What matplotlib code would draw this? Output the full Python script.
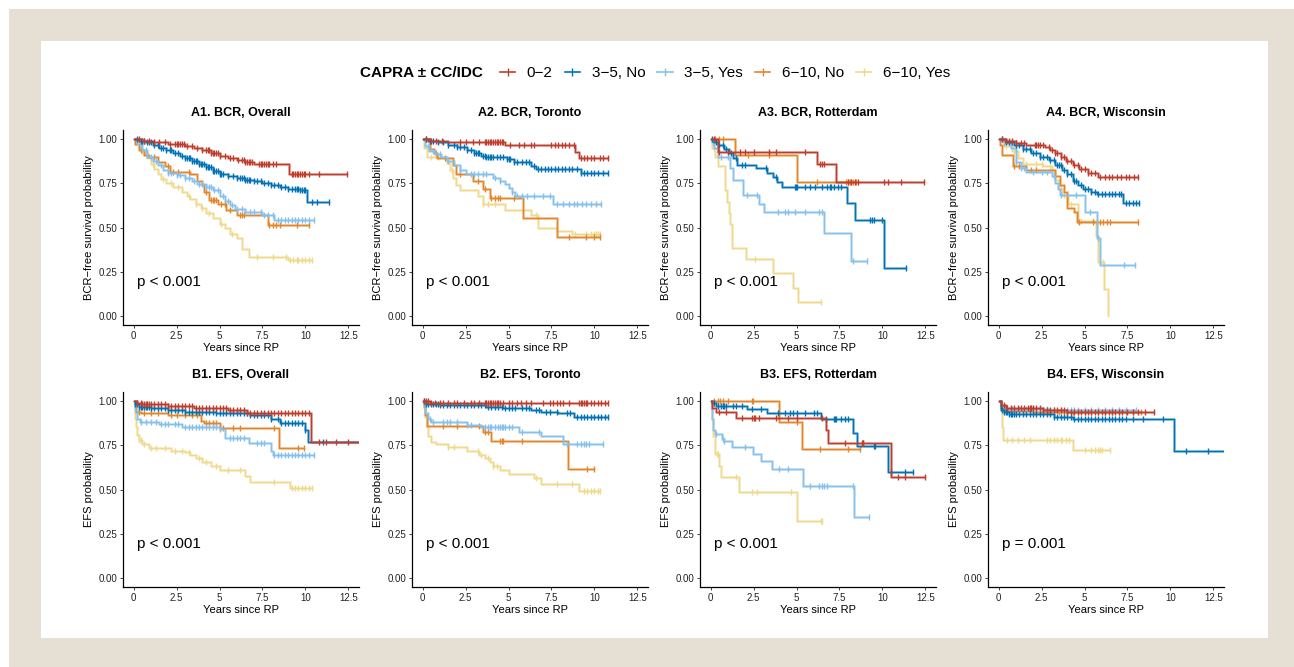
# Kaplan-Meier curves by CAPRA +/- CC/IDC group, BCR and EFS, by cohort
import matplotlib.pyplot as plt
import numpy as np
from matplotlib.lines import Line2D
from matplotlib.patches import Rectangle

plt.rcParams['font.family'] = ['Liberation Sans', 'DejaVu Sans']

groups = ["0\u22122", "3\u22125, No", "3\u22125, Yes", "6\u221210, No", "6\u221210, Yes"]
colors = ["#BE3D2C", "#0072B5", "#85C1EC", "#E3862B", "#EFD98A"]

titles = ["A1. BCR, Overall", "A2. BCR, Toronto", "A3. BCR, Rotterdam", "A4. BCR, Wisconsin",
          "B1. EFS, Overall", "B2. EFS, Toronto", "B3. EFS, Rotterdam", "B4. EFS, Wisconsin"]
pvalues = ["p < 0.001"] * 7 + ["p = 0.001"]
ylabels = ["BCR\u2212free survival probability"] * 4 + ["EFS probability"] * 4
x_ticks = [0, 2.5, 5, 7.5, 10, 12.5]
x_ticklabels = ["0", "2.5", "5", "7.5", "10", "12.5"]
y_ticks = [0, 0.25, 0.5, 0.75, 1.0]
y_ticklabels = ["0.00", "0.25", "0.50", "0.75", "1.00"]

# per panel: step times, survival after each step, last follow-up, censor times
# (one list per group, in the order of `groups`)
a1_times = [[0, 0.5, 1.2, 2.0, 3.0, 3.5, 4.0, 4.5, 5.0, 5.5, 6.0, 6.5, 7.0, 9.05],
            [0, 0.3, 0.7, 1.1, 1.5, 1.9, 2.3, 2.7, 3.0, 3.4, 3.8, 4.2, 4.6, 5.0, 5.5, 6.0, 6.5, 7.0, 7.5, 8.0, 8.5, 9.0, 9.7, 10.1],
            [0, 0.2, 0.5, 0.8, 1.1, 1.4, 1.7, 2.0, 2.5, 3.0, 3.4, 3.7, 4.2, 4.6, 5.0, 5.3, 5.6, 5.9, 6.5, 7.5, 8.2],
            [0, 0.1, 0.3, 0.6, 0.9, 1.4, 1.8, 2.1, 3.3, 3.7, 4.0, 4.1, 4.4, 4.9, 5.4, 6.0, 7.8],
            [0, 0.1, 0.3, 0.5, 0.8, 1.0, 1.2, 1.4, 1.6, 1.9, 2.3, 2.8, 3.1, 3.3, 3.6, 3.9, 4.2, 4.6, 5.0, 5.3, 5.6, 6.0, 6.3, 6.7, 9.0]]
a1_surv = [[1.0, 0.99, 0.98, 0.97, 0.96, 0.95, 0.935, 0.92, 0.905, 0.89, 0.88, 0.87, 0.86, 0.80],
           [1.0, 0.99, 0.98, 0.965, 0.95, 0.935, 0.92, 0.905, 0.89, 0.875, 0.86, 0.84, 0.82, 0.80, 0.79, 0.78, 0.77, 0.76, 0.75, 0.74, 0.73, 0.72, 0.71, 0.645],
           [1.0, 0.97, 0.935, 0.90, 0.875, 0.85, 0.825, 0.805, 0.795, 0.78, 0.76, 0.745, 0.73, 0.71, 0.68, 0.65, 0.625, 0.605, 0.59, 0.57, 0.54],
           [1.0, 0.97, 0.94, 0.91, 0.895, 0.87, 0.845, 0.815, 0.80, 0.765, 0.74, 0.70, 0.655, 0.635, 0.60, 0.57, 0.515],
           [1.0, 0.97, 0.95, 0.92, 0.89, 0.86, 0.83, 0.80, 0.775, 0.75, 0.73, 0.70, 0.68, 0.66, 0.635, 0.61, 0.58, 0.555, 0.52, 0.50, 0.465, 0.44, 0.38, 0.335, 0.315]]
a1_end = [12.4, 11.4, 10.5, 10.2, 10.4]
a1_cens = [[0.3, 0.6, 0.9, 1.2, 1.5, 1.8, 2.1, 2.4, 2.5, 2.6, 2.7, 2.8, 2.9, 3.1, 3.4, 3.7, 4.0, 4.2, 4.3, 4.4, 4.5, 4.6, 4.7, 4.8, 4.9, 5.0, 5.3, 5.6, 5.8, 6.1, 6.3, 6.4, 6.5, 6.6, 6.7, 6.8, 6.9, 7.3, 7.4, 7.5, 7.6, 7.7, 7.8, 7.9, 8.1, 8.3, 9.2, 9.3, 9.4, 9.5, 9.6, 9.7, 9.8, 9.9, 10.0, 10.2, 10.8, 12.4],
           [0.2, 0.4, 0.5, 0.6, 0.8, 0.9, 1.0, 1.2, 1.4, 1.6, 1.7, 1.9, 2.1, 2.2, 2.4, 2.6, 2.8, 3.0, 3.1, 3.2, 3.3, 3.4, 3.5, 3.6, 3.7, 3.8, 3.9, 4.0, 4.1, 4.2, 4.3, 4.4, 4.5, 4.6, 4.7, 4.8, 4.9, 5.0, 5.1, 5.2, 5.5, 5.8, 6.0, 6.2, 6.3, 6.4, 6.5, 6.6, 6.7, 6.8, 7.0, 7.2, 7.4, 7.6, 7.8, 8.0, 8.2, 8.4, 8.6, 8.8, 9.0, 9.2, 9.4, 9.5, 9.6, 9.7, 9.8, 9.9, 10.0, 10.4, 10.7, 11.4],
           [0.4, 0.7, 1.0, 1.3, 1.6, 2.0, 2.2, 2.5, 2.7, 3.0, 3.2, 3.5, 3.8, 4.0, 4.2, 4.4, 4.5, 4.7, 4.9, 5.2, 5.5, 5.7, 6.0, 6.3, 6.5, 6.8, 7.0, 7.4, 7.6, 7.8, 8.1, 8.4, 8.6, 8.8, 9.0, 9.2, 9.4, 9.6, 9.8, 10.0, 10.2, 10.5],
           [0.4, 0.8, 1.2, 2.0, 2.3, 2.6, 3.2, 4.2, 4.5, 4.6, 4.7, 4.8, 5.1, 5.3, 5.6, 6.2, 6.3, 6.4, 7.9, 8.1, 8.3, 8.5, 9.5, 10.2],
           [0.6, 1.1, 1.7, 2.2, 2.6, 3.2, 3.6, 4.0, 4.4, 5.1, 5.7, 7.2, 8.1, 8.9, 9.1, 9.3, 9.5, 9.6, 9.8, 10.0, 10.2, 10.4]]

a2_times = [[0, 0.4, 1.5, 4.8, 8.9, 9.1],
            [0, 0.3, 0.9, 1.5, 2.0, 2.6, 3.0, 3.4, 3.7, 4.9, 5.3, 6.3, 6.6, 9.2],
            [0, 0.15, 0.35, 0.7, 1.05, 1.4, 1.8, 2.2, 2.5, 4.1, 4.5, 4.8, 5.0, 5.2, 5.4, 7.6],
            [0, 0.45, 0.65, 0.85, 1.75, 1.95, 2.9, 3.5, 3.9, 5.83, 7.8],
            [0, 0.1, 0.25, 1.4, 1.6, 1.75, 1.95, 2.15, 3.2, 3.5, 4.8, 6.3, 6.7, 7.8, 8.7]]
a2_surv = [[1.0, 0.99, 0.98, 0.963, 0.925, 0.89],
           [1.0, 0.99, 0.98, 0.965, 0.955, 0.94, 0.92, 0.905, 0.895, 0.885, 0.87, 0.845, 0.83, 0.81],
           [1.0, 0.96, 0.93, 0.915, 0.90, 0.875, 0.85, 0.825, 0.80, 0.78, 0.76, 0.745, 0.725, 0.70, 0.675, 0.635],
           [1.0, 0.945, 0.92, 0.89, 0.855, 0.80, 0.765, 0.72, 0.665, 0.555, 0.445],
           [1.0, 0.95, 0.90, 0.865, 0.825, 0.78, 0.74, 0.71, 0.675, 0.635, 0.60, 0.57, 0.50, 0.48, 0.465]]
a2_end = [10.8, 10.8, 10.4, 10.3, 10.3]
a2_cens = [[0.2, 0.5, 0.8, 1.1, 2.2, 2.5, 2.9, 3.3, 3.6, 3.7, 3.8, 3.9, 4.0, 4.1, 4.2, 4.3, 4.4, 4.5, 4.6, 4.7, 5.1, 5.6, 5.9, 6.3, 6.5, 7.5, 7.7, 7.9, 8.1, 8.3, 8.5, 8.8, 9.2, 9.4, 9.6, 9.8, 10.0, 10.3, 10.5, 10.8],
           [0.2, 0.4, 0.6, 0.9, 1.2, 1.5, 1.8, 2.0, 2.2, 2.4, 2.6, 2.8, 3.0, 3.1, 3.2, 3.3, 3.5, 3.6, 3.7, 3.8, 3.9, 4.0, 4.1, 4.3, 4.5, 4.7, 4.9, 5.0, 5.1, 5.3, 5.5, 5.8, 6.0, 6.2, 6.5, 6.7, 6.9, 7.1, 7.3, 7.5, 7.7, 7.9, 8.1, 8.3, 8.5, 8.7, 9.0, 9.2, 9.4, 9.6, 9.8, 10.0, 10.2, 10.5, 10.8],
           [0.3, 0.6, 1.0, 1.5, 2.2, 2.8, 3.0, 3.2, 3.5, 3.7, 4.2, 4.5, 5.2, 5.5, 5.8, 6.1, 6.5, 7.0, 7.4, 7.8, 8.2, 8.5, 8.8, 9.0, 9.3, 9.5, 9.8, 10.1, 10.4],
           [0.8, 1.3, 2.2, 3.2, 3.6, 4.0, 4.2, 4.4, 4.5, 5.3, 8.5, 9.5, 10.0, 10.3],
           [0.5, 0.9, 1.7, 3.5, 3.8, 4.2, 6.6, 8.9, 9.5, 9.8, 10.0, 10.1, 10.2, 10.3]]

a3_times = [[0, 0.45, 6.2, 7.3],
            [0, 0.2, 0.45, 0.75, 1.05, 1.3, 1.55, 2.65, 3.3, 3.6, 3.85, 4.15, 7.95, 8.4, 10.1],
            [0, 0.1, 0.2, 0.4, 1.1, 1.3, 1.9, 2.8, 3.1, 6.6, 8.2],
            [0, 1.4, 5.05],
            [0, 0.1, 0.25, 0.45, 0.85, 0.95, 1.05, 1.15, 1.25, 2.05, 3.6, 4.8, 5.1]]
a3_surv = [[1.0, 0.928, 0.857, 0.757],
           [1.0, 0.985, 0.965, 0.945, 0.92, 0.89, 0.853, 0.834, 0.806, 0.787, 0.757, 0.73, 0.636, 0.545, 0.273],
           [1.0, 0.98, 0.95, 0.90, 0.835, 0.77, 0.685, 0.635, 0.586, 0.47, 0.31],
           [1.0, 0.91, 0.755],
           [1.0, 0.95, 0.90, 0.845, 0.71, 0.645, 0.58, 0.52, 0.386, 0.322, 0.245, 0.16, 0.08]]
a3_end = [12.4, 11.4, 9.1, 8.45, 6.4]
a3_cens = [[0.2, 0.5, 1.0, 1.7, 2.0, 2.5, 3.4, 3.8, 5.5, 6.35, 6.5, 6.6, 8.0, 8.2, 8.4, 8.6, 10.1, 10.3, 11.1, 12.4],
           [0.1, 0.3, 0.5, 0.7, 0.9, 1.2, 1.5, 1.8, 2.0, 3.2, 3.8, 4.9, 4.95, 5.0, 5.5, 5.8, 6.1, 6.5, 6.8, 6.95, 7.0, 7.2, 7.4, 7.6, 9.3, 9.4, 9.5, 10.0, 11.4],
           [0.15, 0.6, 1.0, 2.1, 2.7, 3.9, 4.3, 4.5, 4.9, 5.5, 6.3, 6.5, 8.3, 9.1],
           [0.25, 0.5, 0.7, 2.2, 3.4, 6.2, 7.9, 8.0, 8.1, 8.2, 8.3, 8.45],
           [0.2, 2.6, 6.4]]

a4_times = [[0, 0.35, 1.0, 1.6, 2.7, 3.0, 3.3, 3.6, 3.9, 4.3, 4.7, 5.2, 5.8],
            [0, 0.4, 0.9, 1.4, 1.9, 2.4, 2.9, 3.3, 3.7, 4.0, 4.3, 4.6, 4.9, 5.4, 5.7, 7.25],
            [0, 0.3, 0.7, 1.0, 1.3, 1.6, 3.1, 3.3, 3.45, 3.55, 5.0, 5.7, 5.9],
            [0, 0.1, 0.2, 0.85, 1.6, 3.3, 3.55, 3.8, 4.0, 4.4, 4.55],
            [0, 0.3, 0.8, 1.1, 1.4, 2.6, 3.1, 3.3, 3.5, 3.7, 4.05, 4.6, 5.65, 5.8, 6.15, 6.35]]
a4_surv = [[1.0, 0.99, 0.975, 0.965, 0.955, 0.94, 0.92, 0.90, 0.875, 0.85, 0.83, 0.81, 0.787],
           [1.0, 0.985, 0.965, 0.945, 0.92, 0.90, 0.88, 0.855, 0.825, 0.80, 0.765, 0.74, 0.715, 0.70, 0.687, 0.64],
           [1.0, 0.975, 0.95, 0.87, 0.835, 0.815, 0.79, 0.75, 0.72, 0.685, 0.59, 0.44, 0.29],
           [1.0, 0.965, 0.91, 0.845, 0.825, 0.79, 0.74, 0.70, 0.61, 0.59, 0.533],
           [1.0, 0.96, 0.93, 0.89, 0.86, 0.845, 0.825, 0.77, 0.72, 0.685, 0.63, 0.535, 0.45, 0.307, 0.153, 0.0]]
a4_end = [8.1, 8.2, 7.95, 8.1, 6.35]
a4_cens = [[0.2, 0.4, 0.6, 0.8, 1.0, 1.3, 1.5, 2.1, 2.2, 2.3, 2.4, 2.6, 2.9, 3.1, 3.3, 3.4, 3.6, 3.8, 4.0, 4.2, 4.4, 4.6, 4.8, 5.0, 5.2, 5.4, 5.6, 5.9, 6.2, 6.4, 6.6, 6.9, 7.1, 7.4, 7.6, 7.9, 8.1],
           [0.2, 0.4, 0.6, 0.8, 1.0, 1.2, 1.4, 1.6, 1.8, 2.0, 2.2, 2.4, 2.6, 2.8, 3.0, 3.2, 3.4, 3.5, 3.6, 3.8, 4.0, 4.2, 4.4, 4.5, 4.8, 5.0, 5.2, 5.4, 5.6, 5.8, 6.0, 6.2, 6.4, 6.6, 6.8, 7.0, 7.1, 7.4, 7.6, 7.8, 8.0, 8.2],
           [0.3, 0.6, 1.0, 1.3, 1.5, 2.0, 2.5, 2.8, 3.2, 3.6, 4.5, 5.3, 5.8, 7.3, 7.95],
           [0.9, 1.2, 1.9, 2.2, 4.7, 5.5, 5.7, 5.9, 6.1, 6.3, 6.5, 8.1],
           [0.4, 0.9, 1.6, 2.2, 2.5, 3.0, 3.6, 3.8, 4.2, 4.6, 4.8, 5.5, 6.1]]

b1_times = [[0, 0.2, 0.5, 2.0, 3.5, 5.5, 6.6, 10.3],
            [0, 0.1, 0.3, 1.0, 2.0, 3.0, 4.8, 6.8, 8.0, 8.5, 10.0, 10.15],
            [0, 0.1, 0.2, 0.35, 1.5, 2.8, 5.0, 5.3, 6.7, 8.0, 8.1],
            [0, 0.15, 0.4, 2.0, 3.9, 4.1, 5.0, 8.45],
            [0, 0.05, 0.1, 0.15, 0.2, 0.3, 0.5, 0.9, 2.2, 3.0, 3.3, 3.6, 4.0, 4.5, 5.0, 6.5, 6.8, 9.1]]
b1_surv = [[1.0, 0.99, 0.98, 0.97, 0.96, 0.95, 0.93, 0.77],
           [1.0, 0.98, 0.965, 0.958, 0.95, 0.94, 0.93, 0.92, 0.90, 0.875, 0.835, 0.77],
           [1.0, 0.95, 0.90, 0.88, 0.868, 0.855, 0.84, 0.79, 0.765, 0.72, 0.695],
           [1.0, 0.94, 0.93, 0.92, 0.885, 0.875, 0.845, 0.735],
           [1.0, 0.96, 0.90, 0.855, 0.81, 0.78, 0.755, 0.735, 0.72, 0.71, 0.695, 0.675, 0.655, 0.63, 0.61, 0.575, 0.54, 0.507]]
b1_end = [13.1, 13.1, 10.5, 9.9, 10.4]
b1_cens = [[0.2, 0.4, 0.5, 0.6, 0.7, 0.8, 0.9, 1.0, 1.2, 1.4, 1.6, 1.8, 2.0, 2.2, 2.4, 2.6, 2.8, 3.0, 3.2, 3.4, 3.6, 3.8, 4.0, 4.2, 4.4, 4.6, 4.8, 5.0, 5.2, 5.4, 5.6, 5.8, 6.0, 6.2, 6.4, 6.6, 6.8, 7.0, 7.2, 7.4, 7.6, 7.8, 8.0, 8.2, 8.4, 8.6, 8.8, 9.0, 9.2, 9.4, 9.6, 9.8, 10.0, 10.2, 10.8, 11.2, 11.8, 12.5],
           [0.1, 0.2, 0.3, 0.4, 0.5, 0.6, 0.7, 0.8, 0.9, 1.0, 1.2, 1.4, 1.6, 1.8, 2.0, 2.2, 2.4, 2.6, 2.8, 3.0, 3.2, 3.4, 3.6, 3.8, 4.0, 4.2, 4.4, 4.6, 4.8, 5.0, 5.2, 5.4, 5.6, 5.8, 6.0, 6.2, 6.4, 6.6, 6.8, 7.0, 7.2, 7.4, 7.6, 7.8, 8.0, 8.4, 8.6, 8.8, 9.0, 9.2, 9.4, 9.6, 9.8, 10.0, 11.0],
           [0.4, 0.7, 1.0, 1.3, 1.6, 1.8, 2.0, 2.4, 2.6, 3.0, 3.2, 3.4, 3.6, 3.8, 4.0, 4.2, 4.4, 4.6, 4.8, 5.0, 5.6, 5.8, 6.0, 6.2, 6.4, 7.2, 7.4, 7.6, 8.2, 8.4, 8.6, 8.8, 9.0, 9.2, 9.4, 9.6, 9.8, 10.0, 10.2, 10.5],
           [0.3, 0.6, 1.0, 1.4, 2.2, 2.5, 3.0, 3.4, 3.7, 4.2, 4.4, 4.6, 4.8, 5.0, 5.2, 5.8, 6.2, 8.2, 9.6, 9.9],
           [0.3, 0.4, 0.6, 1.0, 1.3, 1.8, 2.4, 2.8, 3.2, 3.8, 4.2, 4.8, 5.5, 6.2, 8.2, 9.2, 9.4, 9.6, 9.8, 10.0, 10.2, 10.4]]

b2_times = [[0, 0.4],
            [0, 0.2, 1.0, 3.7, 4.7, 6.3, 6.9, 7.9, 8.8],
            [0, 0.05, 0.15, 0.3, 0.5, 2.6, 3.4, 5.6, 6.9, 8.2],
            [0, 0.1, 0.15, 0.25, 3.5, 4.0, 8.45],
            [0, 0.05, 0.15, 0.25, 0.3, 0.5, 0.8, 1.5, 2.6, 3.3, 3.6, 3.9, 4.1, 4.5, 5.0, 6.5, 6.9, 9.1]]
b2_surv = [[1.0, 0.99],
           [1.0, 0.985, 0.977, 0.968, 0.959, 0.95, 0.94, 0.93, 0.91],
           [1.0, 0.985, 0.93, 0.90, 0.88, 0.865, 0.855, 0.827, 0.80, 0.757],
           [1.0, 0.965, 0.92, 0.857, 0.827, 0.771, 0.615],
           [1.0, 0.98, 0.91, 0.855, 0.80, 0.77, 0.755, 0.74, 0.72, 0.695, 0.675, 0.655, 0.63, 0.61, 0.59, 0.565, 0.53, 0.49]]
b2_end = [10.8, 10.8, 10.5, 10.0, 10.3]
b2_cens = [[0.1, 0.2, 0.3, 0.5, 0.7, 1.0, 1.2, 1.5, 1.8, 2.0, 2.4, 2.8, 3.0, 3.3, 3.6, 3.7, 3.8, 3.9, 4.0, 4.1, 4.2, 4.3, 4.4, 4.5, 4.7, 5.0, 5.2, 5.5, 5.7, 6.0, 6.3, 7.0, 7.4, 7.6, 7.8, 8.0, 8.2, 8.5, 9.1, 9.2, 9.3, 9.4, 9.5, 9.6, 9.8, 10.0, 10.2, 10.4, 10.6, 10.8],
           [0.1, 0.2, 0.3, 0.5, 0.6, 0.8, 0.9, 1.0, 1.2, 1.4, 1.6, 1.8, 2.0, 2.2, 2.4, 2.6, 2.8, 3.0, 3.2, 3.4, 3.6, 3.8, 4.0, 4.2, 4.4, 4.6, 4.8, 5.0, 5.2, 5.4, 5.8, 6.0, 6.2, 6.6, 6.8, 7.2, 7.4, 7.8, 8.4, 8.6, 9.0, 9.2, 9.4, 9.6, 9.8, 10.0, 10.2, 10.4, 10.6, 10.8],
           [0.4, 0.6, 1.2, 1.4, 1.6, 2.0, 2.6, 2.8, 3.6, 3.8, 3.9, 4.0, 4.2, 4.4, 4.5, 4.6, 4.7, 4.8, 5.0, 5.2, 5.8, 6.8, 8.4, 9.0, 9.2, 9.4, 9.5, 9.7, 10.5],
           [1.2, 2.0, 3.3, 3.6, 3.8, 4.5, 4.6, 4.7, 5.8, 9.6, 10.0],
           [1.5, 1.8, 3.2, 3.4, 3.8, 4.1, 4.3, 6.6, 7.8, 8.7, 9.4, 9.6, 9.8, 10.0, 10.2, 10.3]]

b3_times = [[0, 0.1, 0.3, 1.45, 6.7, 6.85, 10.5],
            [0, 0.1, 0.3, 2.1, 3.3, 6.4, 8.3, 8.55, 10.3],
            [0, 0.05, 0.1, 0.15, 0.25, 0.65, 0.8, 1.25, 2.45, 2.95, 3.55, 5.35, 8.35],
            [0, 4.0, 5.3],
            [0, 0.08, 0.15, 0.25, 0.5, 0.6, 1.65, 5.0]]
b3_surv = [[1.0, 0.962, 0.936, 0.902, 0.836, 0.765, 0.573],
           [1.0, 0.987, 0.972, 0.953, 0.93, 0.897, 0.82, 0.746, 0.596],
           [1.0, 0.97, 0.90, 0.836, 0.814, 0.784, 0.776, 0.739, 0.70, 0.658, 0.617, 0.517, 0.345],
           [1.0, 0.878, 0.731],
           [1.0, 0.90, 0.80, 0.70, 0.63, 0.568, 0.485, 0.323]]
b3_end = [12.5, 11.8, 9.25, 8.7, 6.5]
b3_cens = [[0.5, 0.9, 1.8, 2.4, 2.5, 2.6, 2.8, 3.8, 4.5, 5.0, 6.5, 7.8, 8.8, 8.85, 8.9, 10.9, 11.3, 12.5],
           [0.2, 0.4, 0.6, 0.7, 0.8, 0.9, 1.3, 1.5, 1.8, 2.4, 2.9, 3.9, 4.3, 4.6, 4.8, 5.0, 5.5, 6.0, 6.2, 6.7, 7.2, 7.25, 7.3, 7.6, 7.8, 8.0, 9.5, 9.6, 10.5, 11.3, 11.8],
           [0.3, 0.7, 0.8, 2.0, 4.0, 4.5, 5.8, 6.3, 6.5, 6.6, 6.8, 8.3, 9.25],
           [0.2, 0.4, 0.55, 0.7, 1.0, 2.4, 2.45, 5.0, 6.35, 8.0, 8.7],
           [0.35, 0.45, 1.5, 2.4, 2.7, 4.7, 6.45, 6.5]]

b4_times = [[0, 0.15, 0.4, 2.6, 4.0],
            [0, 0.15, 0.3, 0.6, 3.2, 4.3, 10.2],
            [0, 0.15, 0.4, 3.0],
            [0, 0.15, 0.3, 2.0],
            [0, 0.15, 0.2, 0.25, 4.35]]
b4_surv = [[1.0, 0.975, 0.96, 0.95, 0.94],
           [1.0, 0.95, 0.935, 0.925, 0.91, 0.90, 0.72],
           [1.0, 0.97, 0.955, 0.95],
           [1.0, 0.96, 0.945, 0.935],
           [1.0, 0.95, 0.85, 0.78, 0.724]]
b4_end = [9.05, 13.1, 8.0, 8.3, 6.5]
b4_cens = [[0.3, 0.5, 0.7, 0.9, 1.1, 1.3, 1.5, 1.7, 1.8, 1.9, 2.0, 2.2, 2.4, 2.6, 2.8, 3.0, 3.2, 3.4, 3.6, 3.8, 4.0, 4.2, 4.4, 4.6, 4.8, 5.0, 5.2, 5.4, 5.6, 5.8, 6.0, 6.2, 6.4, 6.6, 6.8, 7.0, 7.2, 7.5, 7.8, 8.1, 8.5, 9.05],
           [0.2, 0.3, 0.4, 0.5, 0.6, 0.7, 0.8, 0.9, 1.0, 1.2, 1.4, 1.6, 1.8, 2.0, 2.2, 2.4, 2.6, 2.8, 3.0, 3.2, 3.4, 3.6, 3.8, 4.0, 4.2, 4.4, 4.6, 4.8, 5.0, 5.2, 5.4, 5.6, 5.8, 6.0, 6.2, 6.4, 6.6, 6.8, 7.0, 7.2, 7.4, 7.8, 8.4, 9.6, 10.9, 12.2],
           [0.4, 0.8, 1.2, 1.6, 2.0, 2.4, 2.8, 3.2, 3.6, 4.0, 4.2, 4.4, 4.6, 5.0, 5.4, 5.8, 6.2, 6.6, 7.0, 7.4, 8.0],
           [0.4, 0.8, 1.0, 1.4, 1.8, 2.2, 2.6, 3.0, 3.5, 3.8, 4.0, 4.3, 4.6, 5.0, 5.4, 5.8, 6.2, 6.6, 7.0, 7.4, 7.8, 8.3],
           [0.5, 0.8, 1.1, 1.5, 1.8, 2.8, 3.0, 3.2, 3.4, 3.6, 3.7, 3.9, 4.1, 5.0, 5.4, 5.6, 5.8, 5.9, 6.0, 6.5]]

panels = [(a1_times, a1_surv, a1_end, a1_cens), (a2_times, a2_surv, a2_end, a2_cens),
          (a3_times, a3_surv, a3_end, a3_cens), (a4_times, a4_surv, a4_end, a4_cens),
          (b1_times, b1_surv, b1_end, b1_cens), (b2_times, b2_surv, b2_end, b2_cens),
          (b3_times, b3_surv, b3_end, b3_cens), (b4_times, b4_surv, b4_end, b4_cens)]

W, H = 1294, 667
fig = plt.figure(figsize=(W / 100, H / 100), dpi=100)
fig.patch.set_facecolor("white")

# beige frame and white card
fig.add_artist(Rectangle((9 / W, 0), 1 - 9 / W, 1 - 9 / H, transform=fig.transFigure,
                         facecolor="#E6E0D4", edgecolor="none", zorder=-10))
fig.add_artist(Rectangle((41 / W, 1 - 638 / H), 1227 / W, 597 / H, transform=fig.transFigure,
                         facecolor="white", edgecolor="none", zorder=-9))

col_left = [123, 412, 700, 988]
row_top = [130, 392]
ax_w, ax_h = 236, 195


def draw_km(ax, times, surv, ends, cens):
    for i in reversed(range(len(groups))):
        t = np.array(times[i])
        s = np.array(surv[i])
        x = np.append(t, ends[i])
        y = np.append(s, s[-1])
        ax.step(x, y, where="post", color=colors[i], lw=2.2, alpha=0.35, solid_capstyle="butt")
        ax.step(x, y, where="post", color=colors[i], lw=1.0)
        c = np.array(cens[i])
        idx = np.searchsorted(t, c, side="right") - 1
        ax.plot(c, s[idx], ls="none", marker="|", ms=5, mew=1.0, color=colors[i])


for k, (times, surv, ends, cens) in enumerate(panels):
    r, col = divmod(k, 4)
    left = col_left[col] / W
    bottom = 1 - (row_top[r] + ax_h) / H
    ax = fig.add_axes([left, bottom, ax_w / W, ax_h / H])
    draw_km(ax, times, surv, ends, cens)

    ax.set_xlim(-0.625, 13.125)
    ax.set_ylim(-0.05, 1.05)
    ax.set_xticks(x_ticks)
    ax.set_xticklabels(x_ticklabels)
    ax.set_yticks(y_ticks)
    ax.set_yticklabels(y_ticklabels)
    ax.tick_params(labelsize=7, length=2.5, width=0.6, pad=1.5, colors="#222222")
    for side in ["top", "right"]:
        ax.spines[side].set_visible(False)
    for side in ["left", "bottom"]:
        ax.spines[side].set_linewidth(0.9)

    ax.text(0.5, 1 + 17 / ax_h, titles[k], transform=ax.transAxes, ha="center", va="center",
            fontsize=9, fontweight="bold")
    ax.text(-34 / ax_w, 0.5, ylabels[k], transform=ax.transAxes, rotation=90,
            ha="center", va="center", fontsize=8)
    ax.text(0.5, -23 / ax_h, "Years since RP", transform=ax.transAxes, ha="center",
            va="center", fontsize=8)
    ax.text(0.2, 0.19, pvalues[k], ha="left", va="center", fontsize=11)

# legend across the top
fig.text(360 / W, 1 - 73 / H, "CAPRA \u00b1 CC/IDC", ha="left", va="center",
         fontsize=11, fontweight="bold")
handles = [Line2D([], [], color=c, lw=1.2, marker="|", ms=6, mew=1.0) for c in colors]
fig.legend(handles, groups, ncol=5, loc="center left", bbox_to_anchor=(500 / W, 1 - 73 / H),
           frameon=False, fontsize=11, handlelength=1.0, handletextpad=0.75,
           columnspacing=0.8, borderpad=0, borderaxespad=0)

fig.savefig("out.png", dpi=100, facecolor=fig.get_facecolor())
